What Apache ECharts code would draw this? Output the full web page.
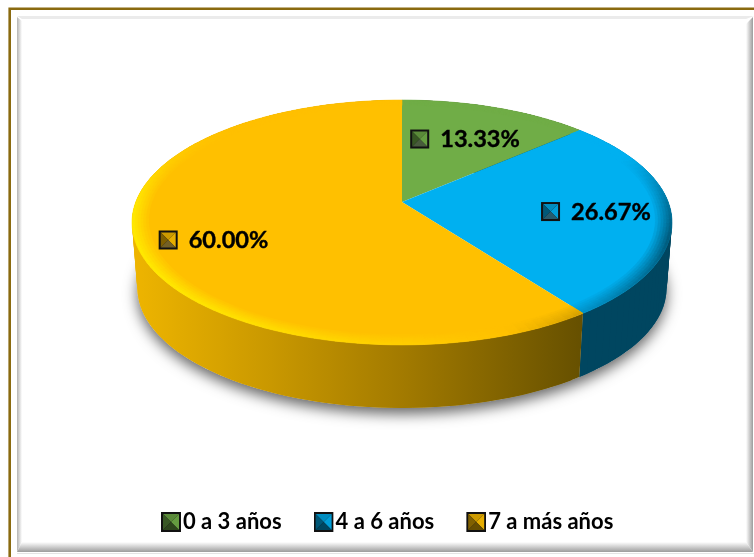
<!DOCTYPE html>
<html>
<head>
<meta charset="utf-8">
<style>html,body{margin:0;padding:0;background:#fff}#chart{width:754px;height:557px}</style>
<script src="https://cdn.jsdelivr.net/npm/echarts@6/dist/echarts.min.js"></script>
</head>
<body>
<div id="chart"></div>
<script>
var categorias = ['0 a 3 años', '4 a 6 años', '7 a más años'];
var valores = [13.33, 26.67, 60.00];
var colores = ['#70AD47', '#00B0F0', '#FFC000'];

// geometria del disco en perspectiva
var cx = 402, cy = 202, R = 266.2, S = 119, K = 0.1673;
var altoLado = 65.9, escalaBase = 0.98;
var radioEtiqueta = [0.63, 0.72, 0.72];
var ajusteEtiqueta = [-1, 0, 10];
var total = 0;
for (var n = 0; n < valores.length; n++) total += valores[n];

function punto(grados, f, dy, esc) {
    var a = grados * Math.PI / 180;
    var u = f * Math.sin(a), v = -f * Math.cos(a), d = 1 - K * v;
    return [cx + R * u / d * esc, cy + (S * v / d) * esc + dy];
}
function arco(g0, g1, f, dy, esc) {
    var pts = [], pasos = Math.max(2, Math.ceil(g1 - g0));
    for (var i = 0; i <= pasos; i++) pts.push(punto(g0 + (g1 - g0) * i / pasos, f, dy, esc));
    return pts;
}
function hex(c) {
    return [parseInt(c.substr(1, 2), 16), parseInt(c.substr(3, 2), 16), parseInt(c.substr(5, 2), 16)];
}
function mezcla(c1, c2, t) {
    var a = hex(c1), b = hex(c2);
    var s = '#';
    for (var i = 0; i < 3; i++) s += ('0' + Math.round(a[i] + (b[i] - a[i]) * t).toString(16)).slice(-2);
    return s;
}
function oscuro(c) {
    return mezcla(c, '#000000', 0.6);
}
function poli(pts, fill, borde) {
    var el = { type: 'polygon', shape: { points: pts }, style: { fill: fill }, silent: true };
    if (borde) { el.style.stroke = borde; el.style.lineWidth = 0.6; }
    return el;
}

// cuadrito biselado de las etiquetas
function marca(x, y, t, c) {
    var m = t / 2, b = 2;
    var x0 = x + b, y0 = y + b, x1 = x + t - b, y1 = y + t - b, cxm = x + m, cym = y + m;
    return [
        poli([[x, y], [x + t, y], [x + t, y + t], [x, y + t]], '#111'),
        poli([[x0, y0], [x1, y0], [cxm, cym]], mezcla(c, '#000000', 0.2)),
        poli([[x1, y0], [x1, y1], [cxm, cym]], mezcla(c, '#000000', 0.1)),
        poli([[x0, y0], [x0, y1], [cxm, cym]], mezcla(c, '#000000', 0.5)),
        poli([[x0, y1], [x1, y1], [cxm, cym]], mezcla(mezcla(c, '#808080', 0.5), '#000000', 0.4))
    ];
}

function iconoLeyenda(c) {
    var m = 10, a = 2, b = 18;
    var svg = '<svg xmlns="http://www.w3.org/2000/svg" width="20" height="20">' +
        '<rect width="20" height="20" fill="#111"/>' +
        '<polygon points="' + a + ',' + a + ' ' + b + ',' + a + ' ' + m + ',' + m + '" fill="' + mezcla(c, '#000000', 0.2) + '"/>' +
        '<polygon points="' + b + ',' + a + ' ' + b + ',' + b + ' ' + m + ',' + m + '" fill="' + mezcla(c, '#000000', 0.1) + '"/>' +
        '<polygon points="' + a + ',' + a + ' ' + a + ',' + b + ' ' + m + ',' + m + '" fill="' + mezcla(c, '#000000', 0.5) + '"/>' +
        '<polygon points="' + a + ',' + b + ' ' + b + ',' + b + ' ' + m + ',' + m + '" fill="' + mezcla(c, '#000000', 0.6) + '"/></svg>';
    return 'image://data:image/svg+xml;charset=utf-8,' + encodeURIComponent(svg);
}

function colorLado(i) {
    if (i == 2) {
        return new echarts.graphic.LinearGradient(137, 0, 582, 0, [
            { offset: 0, color: '#EDB400' },
            { offset: 0.3, color: '#C99800' },
            { offset: 0.6, color: '#A27A00' },
            { offset: 1, color: '#665000' }
        ], true);
    }
    return oscuro(colores[i]);
}

function dibujaSector(i) {
    return function (params, api) {
        var inicio = 0;
        for (var j = 0; j < i; j++) inicio += valores[j];
        var g0 = inicio / total * 360, g1 = g0 + api.value(0) / total * 360;
        var hijos = [];
        var c = colores[i];
        var g, g2, paso = 2;

        // costado, tramos solapados para que no se vean las juntas
        var rellenoLado = colorLado(i);
        for (g = g0; g < g1 - 0.01; g += paso) {
            g2 = Math.min(g + paso * 2, g1);
            hijos.push(poli([punto(g, 1, 0, 1), punto((g + g2) / 2, 1, 0, 1), punto(g2, 1, 0, 1), punto(g2, 1, altoLado, escalaBase), punto((g + g2) / 2, 1, altoLado, escalaBase), punto(g, 1, altoLado, escalaBase)], rellenoLado));
        }

        // cara superior
        hijos.push(poli([[cx, cy]].concat(arco(g0, g1, 1, 0, 1)), c));

        // borde biselado por anillos
        var anillos = 6, ancho = 0.06;
        for (g = g0; g < g1 - 0.01; g += paso) {
            g2 = Math.min(g + paso, g1);
            var med = (g + g2) / 2, v = -Math.cos(med * Math.PI / 180);
            var luz = Math.cos((med - 250) * Math.PI / 180);
            var fLuz = Math.max(0, Math.min(1, (v + 0.7) / 0.7));
            var fSombra = Math.max(0, Math.min(1, (v + 0.4) / 0.7));
            for (var r = 0; r < anillos; r++) {
                var f0 = 1 - ancho + ancho * r / anillos, f1 = 1 - ancho + ancho * (r + 1) / anillos;
                var peso = (r + 1) / anillos;
                var col = luz > 0 ? mezcla(c, '#FFE800', luz * fLuz * peso) : mezcla(c, oscuro(c), -luz * fSombra * peso);
                hijos.push(poli([punto(g, f0, 0, 1), punto(g2, f0, 0, 1), punto(g2, f1, 0, 1), punto(g, f1, 0, 1)], col, col));
            }
        }

        // etiqueta con su marca
        var p = punto((g0 + g1) / 2, radioEtiqueta[i], ajusteEtiqueta[i], 1);
        hijos = hijos.concat(marca(p[0] - 54, p[1] - 9, 19, c));
        hijos.push({
            type: 'text', silent: true,
            style: { text: api.value(0).toFixed(2) + '%', x: p[0] - 24, y: p[1] + 1, fill: '#000', stroke: '#000', lineWidth: 0.4, align: 'left', verticalAlign: 'middle', font: 'bold 23.6px Lato' }
        });
        return { type: 'group', children: hijos };
    };
}

var series = [{
    name: 'sombra', type: 'custom', coordinateSystem: 'none', data: [[1]], silent: true,
    renderItem: function () {
        var el = poli(arco(0, 360, 1, altoLado, escalaBase), '#fff');
        el.style.shadowColor = 'rgba(0,0,0,0.6)';
        el.style.shadowBlur = 14;
        el.style.shadowOffsetY = 6;
        return el;
    }
}];
for (var i = 0; i < categorias.length; i++) {
    series.push({
        name: categorias[i], type: 'custom', coordinateSystem: 'none', silent: true,
        itemStyle: { color: colores[i] }, data: [[valores[i]]], renderItem: dibujaSector(i)
    });
}

var leyenda = [];
for (var k = 0; k < categorias.length; k++) leyenda.push({ name: categorias[k], icon: iconoLeyenda(colores[k]) });

function degradado(x0, y0, x1, y1, c0, c1) {
    return new echarts.graphic.LinearGradient(x0, y0, x1, y1, [{ offset: 0, color: c0 }, { offset: 1, color: c1 }]);
}

var myChart = echarts.init(document.getElementById('chart'), null, { renderer: 'canvas' });
myChart.setOption({
    backgroundColor: '#fff',
    animation: false,
    legend: {
        data: leyenda, left: 156, top: 506, itemWidth: 20, itemHeight: 20, itemGap: 32, selectedMode: false,
        textStyle: { fontFamily: 'Lato', fontWeight: 'bold', fontSize: 22, color: '#000', padding: [0, 0, 0, -3] }
    },
    // marco exterior y bisel interior
    graphic: [
        { type: 'rect', shape: { x: 9.7, y: 8.7, width: 760, height: 560 }, style: { fill: 'none', stroke: '#8A6A10', lineWidth: 2.6 }, silent: true },
        { type: 'polygon', shape: { points: [[17, 17], [22, 21], [22, 542], [17, 552]] }, style: { fill: degradado(0, 0, 1, 0, '#b4b4b4', '#fff') }, silent: true },
        { type: 'polygon', shape: { points: [[17, 16], [754, 16], [746, 19], [22, 19]] }, style: { fill: '#ebebeb' }, silent: true },
        { type: 'polygon', shape: { points: [[17, 552], [22, 542], [746, 542], [753, 552]] }, style: { fill: degradado(0, 0, 0, 1, '#fff', '#9c9c9c') }, silent: true },
        { type: 'polygon', shape: { points: [[746, 24], [753, 17], [753, 552], [746, 542]] }, style: { fill: degradado(0, 0, 1, 0, '#fff', '#9c9c9c') }, silent: true },
        { type: 'rect', shape: { x: 17, y: 553, width: 737, height: 1 }, style: { fill: '#e4e4e4' }, silent: true }
    ],
    series: series
});
</script>
</body>
</html>
